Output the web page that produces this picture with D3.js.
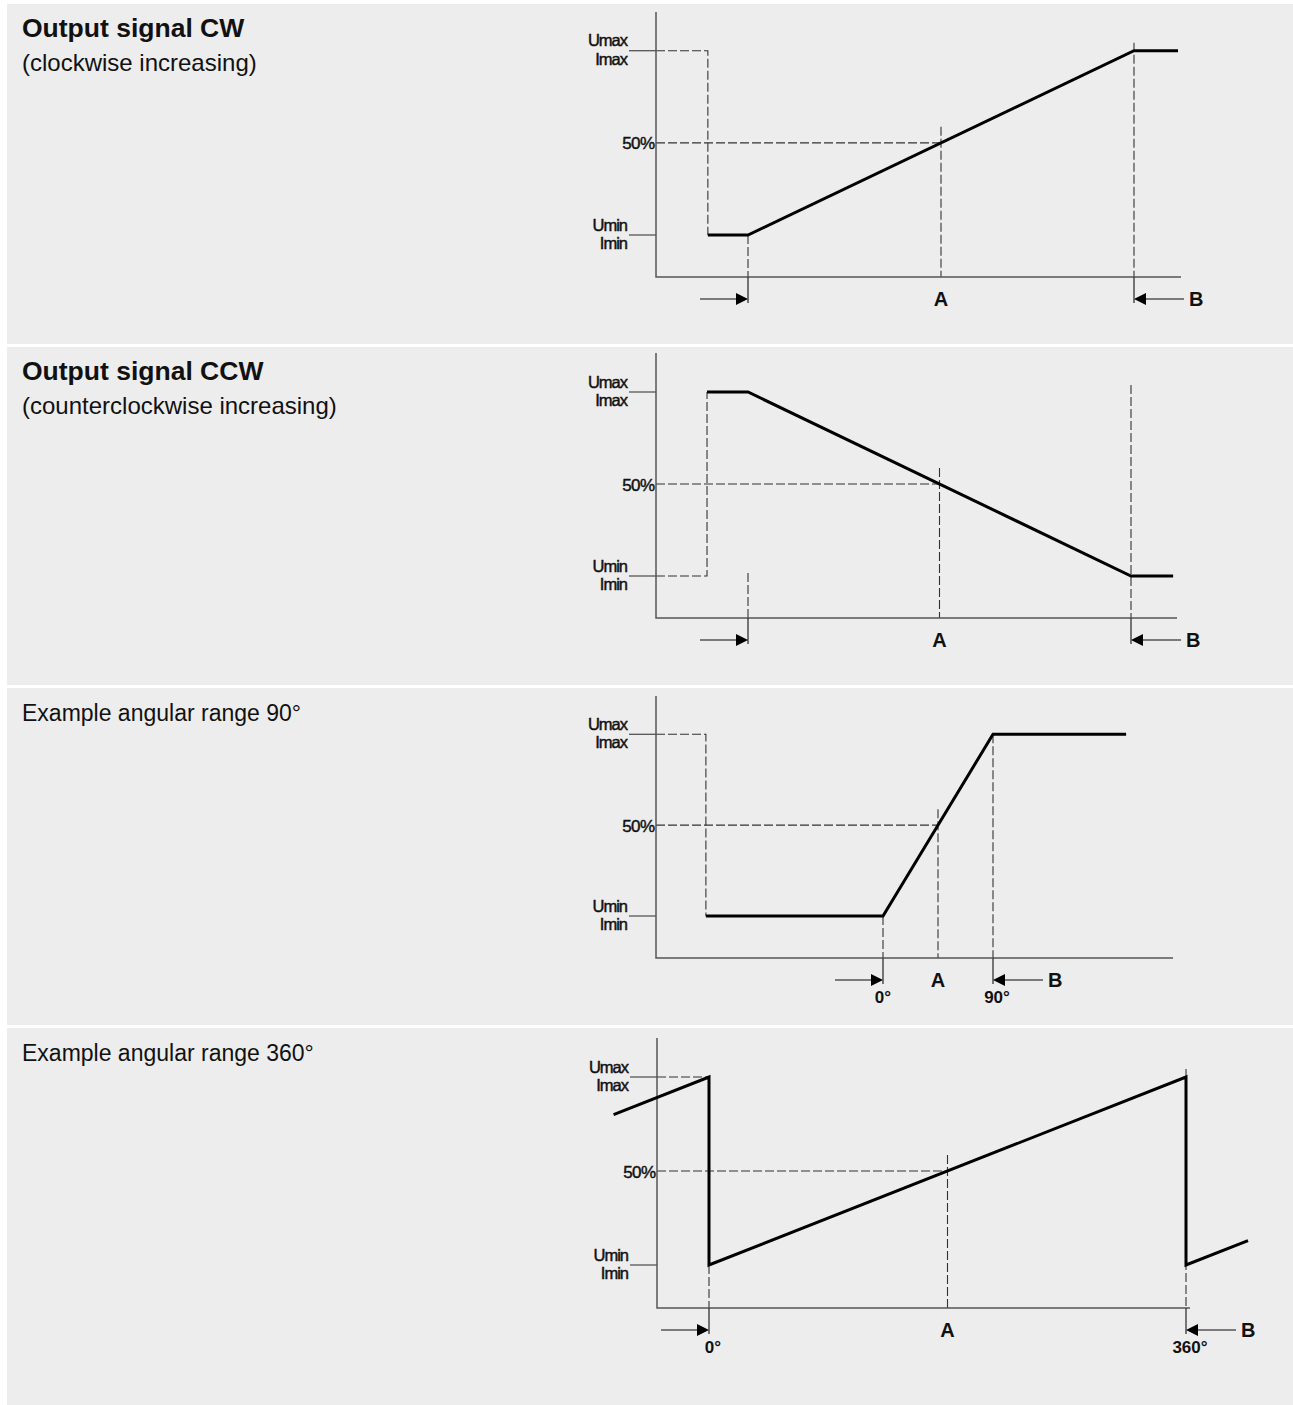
<!DOCTYPE html>
<html>
<head>
<meta charset="utf-8">
<script src="https://cdn.jsdelivr.net/npm/d3@7"></script>
<style>
  body { margin: 0; background: #fff; }
  text { font-family: "Liberation Sans", Arial, sans-serif; fill: #111; }
</style>
</head>
<body>
<script>
// --- data ---
const titles = ['Output signal CW', 'Output signal CCW', 'Example angular range 90°', 'Example angular range 360°']
const titleBold = [true, true, false, false]
const subtitles = ['(clockwise increasing)', '(counterclockwise increasing)', '', '']
const levelValues = [1, 0.5, 0]
const levelLabels = [['Umax', 'Imax'], ['50%'], ['Umin', 'Imin']]
// x: 0 = start of range, 1 = end of range; y: 0 = Umin/Imin, 1 = Umax/Imax
const cwSignal = [[-0.104, 0], [0, 0], [1, 1], [1.114, 1]]
const ccwSignal = [[-0.107, 1], [0, 1], [1, 0], [1.11, 0]]
const range90Signal = [[-1.61, 0], [0, 0], [1, 1], [2.21, 1]]
const range360Signal = [[-0.2, 0.8], [0, 1], [0, 0], [1, 1], [1, 0], [1.13, 0.13]]
const signals = [cwSignal, ccwSignal, range90Signal, range360Signal]
// level held before the step (dashed), null = none
const stepFrom = [1, 0, 1, null]
const midLabel = 'A'
const endLabel = 'B'
const startDegrees = ['', '', '0°', '0°']
const endDegrees = ['', '', '90°', '360°']

// --- layout (pixels) ---
const W = 1293, H = 1405
const layout = [
  { top: 4, h: 340, axisX: 656, axisTop: 12, axisY: 277, axisRight: 1181, x0: 748, x1: 1134, yMin: 235, yMax: 50.7, endOver: 8 },
  { top: 347, h: 338, axisX: 656, axisTop: 353, axisY: 618, axisRight: 1177, x0: 748, x1: 1131, yMin: 576, yMax: 392, endOver: 7 },
  { top: 688, h: 337, axisX: 656, axisTop: 696, axisY: 958, axisRight: 1173, x0: 883, x1: 993, yMin: 916, yMax: 734.3, endOver: 0 },
  { top: 1028, h: 377, axisX: 657, axisTop: 1038, axisY: 1308, axisRight: 1190, x0: 709, x1: 1186, yMin: 1265, yMax: 1077, endOver: 8 }
]

const svg = d3.select('body').append('svg')
  .attr('width', W)
  .attr('height', H)

const dash = '9,3'

function levelText (g, tx, ty, str, size, ls) {
  g.append('text')
    .attr('x', tx).attr('y', ty)
    .attr('text-anchor', 'end')
    .attr('font-size', size)
    .attr('letter-spacing', ls)
    .attr('stroke', '#111')
    .attr('stroke-width', 0.45)
    .text(str)
}

layout.forEach((l, i) => {
  const g = svg.append('g')
  const x = d3.scaleLinear().domain([0, 1]).range([l.x0, l.x1])
  const y = d3.scaleLinear().domain([0, 1]).range([l.yMin, l.yMax])

  g.append('rect')
    .attr('x', 7).attr('y', l.top)
    .attr('width', W - 7).attr('height', l.h)
    .attr('fill', '#ededed')

  g.append('text')
    .attr('x', 22).attr('y', l.top + 33)
    .attr('font-size', titleBold[i] ? 26.5 : 23)
    .attr('font-weight', titleBold[i] ? 'bold' : 'normal')
    .text(titles[i])
  if (subtitles[i]) {
    g.append('text')
      .attr('x', 22).attr('y', l.top + 67)
      .attr('font-size', 24)
      .text(subtitles[i])
  }

  // dashed guides
  const guides = []
  guides.push(`M${l.axisX},${y(0.5)}H${x(0.5)}`)
  if (stepFrom[i] !== null) {
    const s = signals[i][0]
    guides.push(`M${l.axisX},${y(stepFrom[i])}H${x(s[0])}V${y(s[1])}`)
  } else {
    guides.push(`M${l.axisX},${y(1)}H${x(0)}`)
  }
  guides.push(`M${x(0)},${y(0) - (i === 1 ? 3 : 0)}V${l.axisY}`)
  guides.push(`M${x(0.5)},${y(0.5) - 16}V${l.axisY}`)
  guides.push(`M${x(1)},${y(1) - l.endOver}V${l.axisY}`)
  g.selectAll('path.guide').data(guides).enter().append('path')
    .attr('class', 'guide')
    .attr('d', d => d)
    .attr('fill', 'none')
    .attr('stroke', '#333')
    .attr('stroke-width', 1.1)
    .attr('stroke-dasharray', dash)

  // axes
  g.append('path')
    .attr('d', `M${l.axisX},${l.axisTop}V${l.axisY}H${l.axisRight}`)
    .attr('fill', 'none')
    .attr('stroke', '#555')
    .attr('stroke-width', 1.5)

  // level ticks and labels
  levelValues.forEach((v, k) => {
    const ly = y(v)
    const lab = levelLabels[k]
    if (lab.length === 2) {
      g.append('line')
        .attr('x1', l.axisX - 27).attr('x2', l.axisX)
        .attr('y1', ly).attr('y2', ly)
        .attr('stroke', '#555').attr('stroke-width', 1.3)
      levelText(g, l.axisX - 29, ly - 4.5, lab[0], 16.5, -1)
      levelText(g, l.axisX - 29, ly + 14, lab[1], 16.5, -1)
    } else {
      levelText(g, l.axisX - 1.5, ly + 6.5, lab[0], 17, -0.6)
    }
  })

  // solid drops below the axis
  ;[0, 1].forEach(v => {
    g.append('line')
      .attr('x1', x(v)).attr('x2', x(v))
      .attr('y1', l.axisY).attr('y2', l.axisY + 26)
      .attr('stroke', '#333').attr('stroke-width', 1.3)
  })

  // arrows
  const ay = l.axisY + 22
  g.append('line')
    .attr('x1', x(0) - 48).attr('x2', x(0) - 8)
    .attr('y1', ay).attr('y2', ay)
    .attr('stroke', '#555').attr('stroke-width', 1.5)
  g.append('path')
    .attr('d', `M${x(0)},${ay}L${x(0) - 12},${ay - 6}L${x(0) - 12},${ay + 6}Z`)
    .attr('fill', '#000')
  g.append('line')
    .attr('x1', x(1) + 8).attr('x2', x(1) + 50)
    .attr('y1', ay).attr('y2', ay)
    .attr('stroke', '#555').attr('stroke-width', 1.5)
  g.append('path')
    .attr('d', `M${x(1)},${ay}L${x(1) + 12},${ay - 6}L${x(1) + 12},${ay + 6}Z`)
    .attr('fill', '#000')

  g.append('text')
    .attr('x', x(0.5)).attr('y', l.axisY + 29)
    .attr('text-anchor', 'middle')
    .attr('font-size', 20).attr('font-weight', 'bold')
    .text(midLabel)
  g.append('text')
    .attr('x', x(1) + 55).attr('y', l.axisY + 29)
    .attr('font-size', 20).attr('font-weight', 'bold')
    .text(endLabel)

  if (startDegrees[i]) {
    g.append('text')
      .attr('x', x(0) + (i === 3 ? 4 : 0)).attr('y', l.axisY + 45)
      .attr('text-anchor', 'middle')
      .attr('font-size', 17).attr('font-weight', 'bold')
      .text(startDegrees[i])
    g.append('text')
      .attr('x', x(1) + 4).attr('y', l.axisY + 45)
      .attr('text-anchor', 'middle')
      .attr('font-size', 17).attr('font-weight', 'bold')
      .text(endDegrees[i])
  }

  // signal
  const line = d3.line().x(d => x(d[0])).y(d => y(d[1]))
  g.append('path')
    .datum(signals[i])
    .attr('d', line)
    .attr('fill', 'none')
    .attr('stroke', '#000')
    .attr('stroke-width', 3)
    .attr('stroke-linejoin', 'miter')
})
</script>
</body>
</html>
